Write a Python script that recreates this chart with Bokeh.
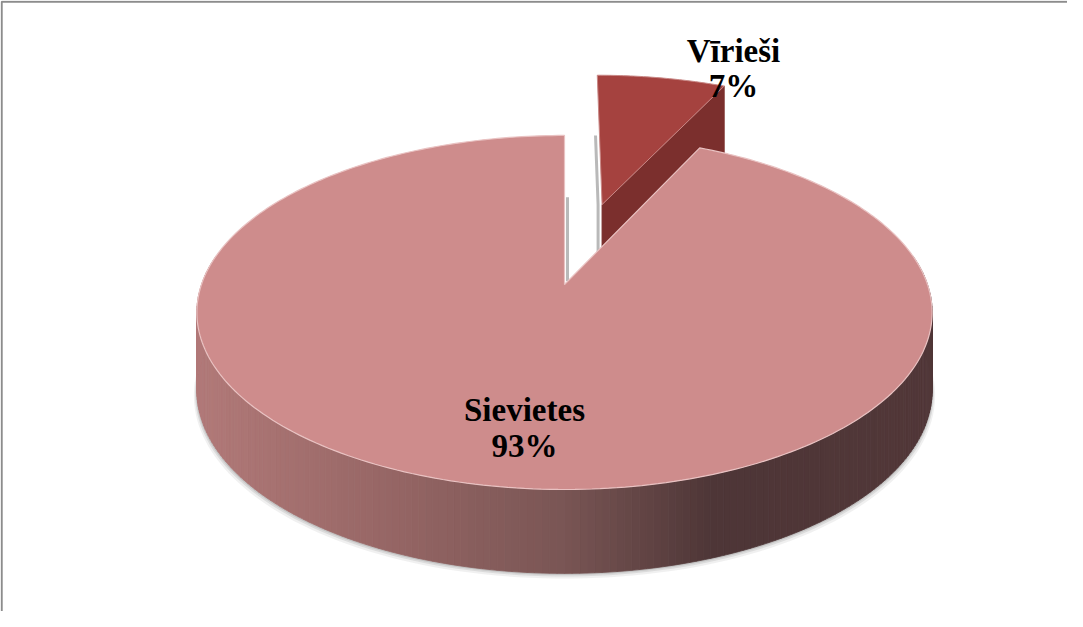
import numpy as np
from bokeh.plotting import figure
from bokeh.models import Range1d
from bokeh.embed import file_html
from bokeh.resources import INLINE
from bokeh.core.properties import value

# ---- data ----
categories = ["Vīrieši", "Sievietes"]
shares = [7, 93]
pct_labels = ["7%", "93%"]
top_colors = ["#A5423F", "#CE8C8C"]
cut_colors = ["#7B2F2D", "#9A6A6A"]
explode = [0.512, 0.0]

# ---- layout ----
W, H = 1067, 611
p = figure(width=W, height=H, x_range=Range1d(8, 8 + W), y_range=Range1d(8 + H, 8),
           output_backend="svg", toolbar_location=None, min_border=0)
p.axis.visible = False
p.grid.visible = False
p.outline_line_color = None
p.background_fill_color = "white"
p.border_fill_color = "white"

CX, CY, A, B, K, D = 572, 292, 363, 172.6, 0.158, 77


def proj(u, v, h=0.0):
    u = np.asarray(u, float)
    v = np.asarray(v, float)
    s = 1.0 / (1.0 + K * v)
    return CX + A * u * s, CY - B * v * s + h * D * np.sqrt(s)


# gradient for the side wall (by screen x)
gx = [205, 400, 570, 720, 940]
gc = [(178, 122, 121), (150, 102, 101), (122, 86, 85), (78, 54, 55), (82, 56, 57)]


def side_color(x):
    r = np.interp(x, gx, [c[0] for c in gc])
    g = np.interp(x, gx, [c[1] for c in gc])
    b = np.interp(x, gx, [c[2] for c in gc])
    return "#%02x%02x%02x" % (int(r), int(g), int(b))


# angles (degrees, clockwise from 12 o'clock)
total = float(sum(shares))
starts = np.cumsum([0] + shares[:-1]) / total * 360.0
ends = np.cumsum(shares) / total * 360.0

# ---- slice 0 (exploded, behind) ----
i = 0
a0, a1 = np.radians(starts[i]), np.radians(ends[i])
mid = (a0 + a1) / 2
ou, ov = explode[i] * np.sin(mid), explode[i] * np.cos(mid)
th = np.linspace(a0, a1, 40)

# visible cut face at end angle
cu = [ou, ou + np.sin(a1), ou + np.sin(a1), ou]
cv = [ov, ov + np.cos(a1), ov + np.cos(a1), ov]
xs_c, ys_c = proj(cu, cv, 0)
_, ys_cb = proj(cu, cv, 1)
face_y = [ys_c[0], ys_c[1], ys_cb[2], ys_cb[3]]
p.patch(list(xs_c), face_y, fill_color=cut_colors[i], line_color=cut_colors[i])

# grey shadow edge on the left of the exploded slice
sx, sy = proj([ou + 0.5 * np.sin(a0), ou], [ov + 0.5 * np.cos(a0), ov], 0)
_, syb = proj([ou], [ov], 1)
p.line([sx[0] - 4, sx[1] - 4, sx[1] - 4], [sy[0], sy[1], syb[0]],
       line_color="#A8A8A8", line_width=3, line_alpha=0.8)

# top face
tu = np.concatenate([[ou], ou + np.sin(th)])
tv = np.concatenate([[ov], ov + np.cos(th)])
tx, ty = proj(tu, tv, 0)
p.patch(list(tx), list(ty), fill_color=top_colors[i], line_color="#C98886", line_width=1)

# ---- slice 1 (main) ----
i = 1
a0, a1 = np.radians(starts[i]), np.radians(ends[i])
ou, ov = 0.0, 0.0

# soft shadow of the wall
thv = np.radians(np.linspace(82, 278, 120))
ux, uy = proj(np.sin(thv), np.cos(thv), 0)
bx, by = proj(np.sin(thv), np.cos(thv), 1)
for off, al in [(5, 0.15), (3, 0.25), (1.5, 0.35)]:
    p.patch(list(ux) + list(bx[::-1] + np.sign(bx[::-1] - CX) * off * 0.6),
            list(uy) + list(by[::-1] + off),
            fill_color="#9A9A9A", fill_alpha=al, line_color=None)

# wall strips with gradient
thd = np.radians(np.arange(80, 281, 1.0))
for j in range(len(thd) - 1):
    t2 = thd[j:j + 2]
    x1, y1 = proj(np.sin(t2), np.cos(t2), 0)
    x2, y2 = proj(np.sin(t2), np.cos(t2), 1)
    col = side_color((x1[0] + x1[1]) / 2)
    p.patch([x1[0], x1[1], x2[1], x2[0]], [y1[0], y1[1], y2[1], y2[0]],
            fill_color=col, line_color=col, line_width=0.8)

# grey shadow line in the gap
gxs, gys = proj([0, 0], [0.02, 0.55], 0)
p.line(gxs + 3, gys, line_color="#A8A8A8", line_width=3, line_alpha=0.8)

# main top face
th = np.linspace(a0, a1, 300)
tu = np.concatenate([[ou], ou + np.sin(th)])
tv = np.concatenate([[ov], ov + np.cos(th)])
tx, ty = proj(tu, tv, 0)
p.patch(list(tx), list(ty), fill_color=top_colors[i], line_color="#E9C2C2", line_width=1.2)

# ---- labels ----
label_pos = [(741, 58, 93), (532, 417, 453)]
font = value("Liberation Serif")
for k in range(len(categories)):
    x, y1, y2 = label_pos[k]
    p.text([x], [y1], text=[categories[k]], text_font=font, text_font_size="33px",
           text_font_style="bold", text_align="center", text_baseline="alphabetic",
           text_color="black")
    p.text([x], [y2], text=[pct_labels[k]], text_font=font, text_font_size="33px",
           text_font_style="bold", text_align="center", text_baseline="alphabetic",
           text_color="black")

# chart frame (only top/left visible in window)
p.line([9.2, 9.2, 1100], [700, 9.2, 9.2], line_color="#8C8C8C", line_width=2)

open("out.html", "w").write(file_html(p, INLINE))
